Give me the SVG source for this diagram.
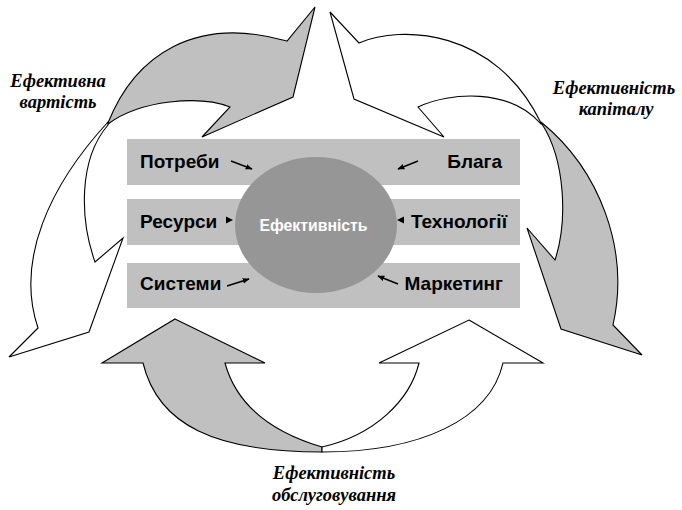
<svg xmlns="http://www.w3.org/2000/svg" width="682" height="510" viewBox="0 0 682 510">
<defs>
<marker id="ah" viewBox="0 0 10 10" refX="9" refY="5" markerWidth="7" markerHeight="7" markerUnits="userSpaceOnUse" orient="auto">
<path d="M0,1 L10,5 L0,9 Z" fill="#000"/>
</marker>
</defs>
<style>
.ga{fill:#c0c0c0;stroke:#000;stroke-width:1.1;stroke-linejoin:miter}
.wa{fill:#fff;stroke:#000;stroke-width:1.1;stroke-linejoin:miter}
.bar{fill:#c0c0c0}
.lbl{font-family:"Liberation Sans",Arial,sans-serif;font-weight:bold;font-size:19px;fill:#000}
.ctr{font-family:"Liberation Sans",Arial,sans-serif;font-weight:bold;font-size:15.8px;fill:#fff}
.cap{font-family:"Liberation Serif","Times New Roman",serif;font-weight:bold;font-style:italic;font-size:18.5px;fill:#000}
.sa{stroke:#000;stroke-width:1.4;fill:none}
.tri{fill:#000}
</style>
<rect width="682" height="510" fill="#fff"/>

<g id="cycle-arrows">
<path id="arrow-top-left" class="ga" d="M108,123 C135,55 195,15 287,41 L315,7 L293,97 L202,137 L230,107 C200,95 140,100 108,124 Z"/>
<path id="arrow-left" class="wa" d="M108,122 C50,185 15,260 38,328 L9,357 L89,332 L123,238 L95,262 C80,220 78,160 108,125 Z"/>
<path id="arrow-top-right" class="wa" d="M541,123 C495,28 400,25 359,43 L330,12 L354,99 L444,137 L418,107 C450,92 510,88 541,124 Z"/>
<path id="arrow-right" class="ga" d="M541,122 C600,170 630,250 613,325 L642,355 L561,329 L527,228 L555,260 C568,220 565,160 542,124 Z"/>
<path id="arrow-bottom-left" class="ga" d="M175,319 L265,363 L225,363 C235,400 265,430 322,447 L322,452 C215,452 158,425 143,363 L102,363 Z"/>
<path id="arrow-bottom-right" class="wa" d="M469,320 L543,363 L503,363 C490,420 420,452 322,452 L322,447 C375,435 410,400 419,363 L379,363 Z"/>
</g>

<g id="bar-1"><rect class="bar" x="127" y="139" width="393" height="46"/></g>
<g id="bar-2"><rect class="bar" x="127" y="199" width="393" height="46"/></g>
<g id="bar-3"><rect class="bar" x="127" y="263" width="393" height="45"/></g>

<g id="node-efektyvnist">
<ellipse cx="316" cy="225" rx="81" ry="68" fill="#969696"/>
<text class="ctr" x="313.5" y="231" text-anchor="middle">Ефективність</text>
</g>

<g id="node-potreby"><text class="lbl" x="140" y="168">Потреби</text></g>
<g id="node-resursy"><text class="lbl" x="140" y="228">Ресурси</text></g>
<g id="node-systemy"><text class="lbl" x="140" y="290">Системи</text></g>
<g id="node-blaha"><text class="lbl" x="502" y="168" text-anchor="end">Блага</text></g>
<g id="node-tekhnolohii"><text class="lbl" x="507" y="228" text-anchor="end">Технології</text></g>
<g id="node-marketynh"><text class="lbl" x="503" y="290" text-anchor="end">Маркетинг</text></g>

<g id="connectors">
<line class="sa" x1="231" y1="161" x2="252" y2="169" marker-end="url(#ah)"/>
<line class="sa" x1="418" y1="161" x2="398" y2="169" marker-end="url(#ah)"/>
<line class="sa" x1="227" y1="286" x2="249" y2="279" marker-end="url(#ah)"/>
<line class="sa" x1="398" y1="284" x2="378" y2="276" marker-end="url(#ah)"/>
<path class="tri" d="M226,216.5 L233,220 L226,223.5 Z"/>
<path class="tri" d="M404,216.5 L397,220 L404,223.5 Z"/>
</g>

<g id="label-vartist">
<text class="cap" x="58" y="87" text-anchor="middle">Ефективна</text>
<text class="cap" x="58" y="108" text-anchor="middle">вартість</text>
</g>
<g id="label-kapital">
<text class="cap" x="614" y="94" text-anchor="middle">Ефективність</text>
<text class="cap" x="616" y="115" text-anchor="middle">капіталу</text>
</g>
<g id="label-obsluhovuvannia">
<text class="cap" x="334" y="479" text-anchor="middle">Ефективність</text>
<text class="cap" x="334" y="501" text-anchor="middle">обслуговування</text>
</g>
</svg>
